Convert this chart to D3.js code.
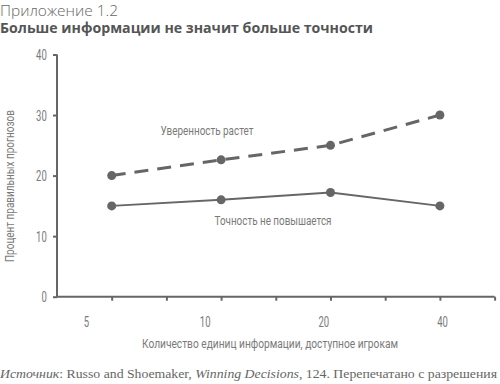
<!DOCTYPE html>
<html><head><meta charset="utf-8">
<script src="https://cdn.jsdelivr.net/npm/d3@7"></script>
<style>
body{margin:0;background:#fff;}
svg{display:block;}
</style></head>
<body>
<svg id="c" width="500" height="384"></svg>
<script>
const categories = ["5", "10", "20", "40"];
const confidence = [20, 22.6, 25, 30];
const accuracy = [15, 16, 17.2, 15];
const yTicks = [0, 10, 20, 30, 40];
const titleSmall = "Приложение 1.2";
const titleBold = "Больше информации не значит больше точности";
const yLabel = "Процент правильных прогнозов";
const xLabel = "Количество единиц информации, доступное игрокам";
const confLabel = "Уверенность растет";
const accLabel = "Точность не повышается";

(function(){
const svg = d3.select("#c");
const grey = "#666";
const textGrey = "#7a7a7a";
const cond = "Roboto, 'DejaVu Sans', sans-serif";

const pLeft = 57, pRight = 494.6, pTop = 54.5, pBottom = 296.7;
const y = d3.scaleLinear().domain([0, 40]).range([pBottom, pTop]);
const slots = d3.scaleLinear().domain([0, 8]).range([pLeft, pRight]);
const x = d3.scalePoint().domain(categories).range([slots(1), slots(7)]);
const xLab = d3.scalePoint().domain(categories).range([86, 442]);

// titles
svg.append("text").attr("x", 0).attr("y", 15.5).text(titleSmall)
  .attr("font-family", "'Open Sans', sans-serif").attr("font-weight", 300)
  .attr("font-size", 14).attr("fill", "#666").attr("textLength", 118).attr("lengthAdjust", "spacingAndGlyphs");
svg.append("text").attr("x", 0).attr("y", 33).text(titleBold)
  .attr("font-family", "'Open Sans', sans-serif").attr("font-weight", 700)
  .attr("font-size", 14.5).attr("fill", "#555").attr("textLength", 373).attr("lengthAdjust", "spacingAndGlyphs");

// y axis
const yAxis = svg.append("g").attr("transform", `translate(${pLeft},0)`)
  .call(d3.axisLeft(y).tickValues(yTicks).tickSize(4).tickPadding(6));
yAxis.select(".domain").attr("stroke", grey).attr("stroke-width", 2).attr("d", `M0,${pTop}V${pBottom}`);
yAxis.selectAll(".tick line").attr("stroke", grey).attr("stroke-width", 2);
yAxis.selectAll(".tick text").attr("font-family", cond).attr("font-size", 14).attr("fill", textGrey)
  .attr("transform", "scale(0.68,1)").attr("x", -15).attr("dy", "0.36em");

// x axis ticks
const xAxis = svg.append("g").attr("transform", `translate(0,${pBottom})`)
  .call(d3.axisBottom(slots).tickValues(d3.range(0, 9)).tickSize(4).tickFormat(""));
xAxis.select(".domain").attr("stroke", grey).attr("stroke-width", 2).attr("d", `M${pLeft - 1},0H${pRight}`);
xAxis.selectAll(".tick line").attr("stroke", grey).attr("stroke-width", 2);
xAxis.selectAll(".tick").filter(d => d === 0).remove();

// x tick labels
const xl = svg.append("g").attr("transform", `translate(0,${pBottom})`)
  .call(d3.axisBottom(xLab).tickSize(0).tickPadding(20));
xl.select(".domain").remove();
xl.selectAll(".tick text").attr("font-family", cond).attr("font-size", 14).attr("fill", textGrey)
  .attr("transform", "scale(0.68,1)");

// axis titles
svg.append("text").attr("transform", `translate(14,186) rotate(-90)`).attr("text-anchor", "middle")
  .text(yLabel).attr("font-family", cond).attr("font-size", 13).attr("fill", textGrey)
  .attr("textLength", 152).attr("lengthAdjust", "spacingAndGlyphs");
svg.append("text").attr("x", 270).attr("y", 348).attr("text-anchor", "middle")
  .text(xLabel).attr("font-family", cond).attr("font-size", 13).attr("fill", textGrey)
  .attr("textLength", 256).attr("lengthAdjust", "spacingAndGlyphs");

// lines
const line = d3.line().x((d, i) => x(categories[i])).y(d => y(d));
svg.append("path").datum(confidence).attr("d", line).attr("fill", "none")
  .attr("stroke", grey).attr("stroke-width", 3).attr("stroke-dasharray", "14,9");
svg.append("path").datum(accuracy).attr("d", line).attr("fill", "none")
  .attr("stroke", grey).attr("stroke-width", 2);
[confidence, accuracy].forEach(s => {
  svg.append("g").selectAll("circle").data(s).join("circle")
    .attr("cx", (d, i) => x(categories[i])).attr("cy", d => y(d)).attr("r", 4.5).attr("fill", grey);
});

// annotations
svg.append("text").attr("x", 207).attr("y", 135).attr("text-anchor", "middle").text(confLabel)
  .attr("font-family", cond).attr("font-size", 13).attr("fill", textGrey)
  .attr("textLength", 93).attr("lengthAdjust", "spacingAndGlyphs");
svg.append("text").attr("x", 273).attr("y", 225).attr("text-anchor", "middle").text(accLabel)
  .attr("font-family", cond).attr("font-size", 13).attr("fill", textGrey)
  .attr("textLength", 117).attr("lengthAdjust", "spacingAndGlyphs");

// source
const src = svg.append("text").attr("x", 0).attr("y", 378)
  .attr("font-family", "'Liberation Serif', 'DejaVu Serif', serif").attr("font-size", 13.5).attr("fill", "#666")
  .attr("textLength", 497).attr("lengthAdjust", "spacingAndGlyphs");
src.append("tspan").attr("font-style", "italic").text("Источник");
src.append("tspan").text(": Russo and Shoemaker, ");
src.append("tspan").attr("font-style", "italic").text("Winning Decisions");
src.append("tspan").text(", 124. Перепечатано с разрешения");
})();
</script>
</body></html>
